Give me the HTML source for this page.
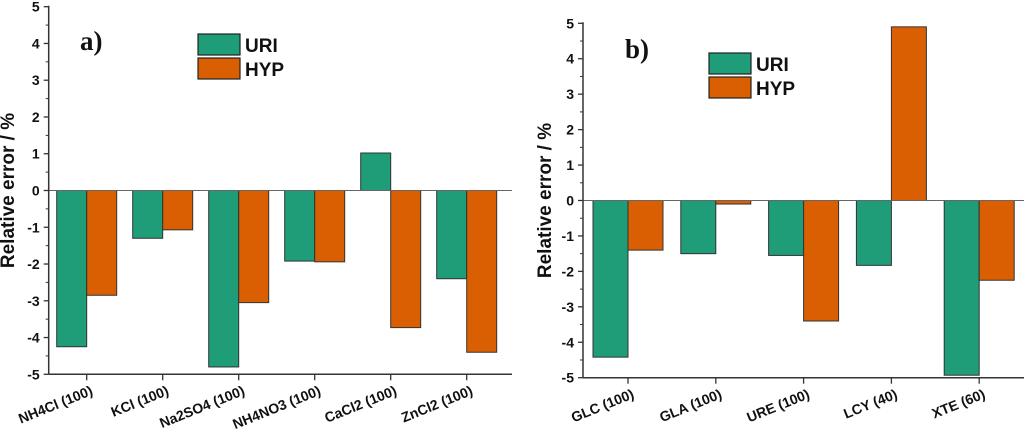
<!DOCTYPE html>
<html><head><meta charset="utf-8"><style>
html,body{margin:0;padding:0;background:#fff;}
svg{display:block;font-family:"Liberation Sans",Arial,sans-serif;}
</style></head><body>
<svg id="chart" width="1024" height="433" viewBox="0 0 1024 433"></svg>
<script>
const catsA = ["NH4Cl (100)","KCl (100)","Na2SO4 (100)","NH4NO3 (100)","CaCl2 (100)","ZnCl2 (100)"];
const uriA = [-4.25,-1.3,-4.8,-1.92,1.02,-2.4];
const hypA = [-2.85,-1.07,-3.05,-1.94,-3.73,-4.4];
const catsB = ["GLC (100)","GLA (100)","URE (100)","LCY (40)","XTE (60)"];
const uriB = [-4.42,-1.5,-1.55,-1.83,-4.93];
const hypB = [-1.4,-0.1,-3.4,4.9,-2.25];
const yTicks = [-5,-4,-3,-2,-1,0,1,2,3,4,5];

const NS="http://www.w3.org/2000/svg";
const svg=document.getElementById('chart');
function mk(tag,attrs,parent,text){const e=document.createElementNS(NS,tag);for(const k in attrs)e.setAttribute(k,attrs[k]);if(text!==undefined)e.textContent=text;(parent||svg).appendChild(e);return e;}

function panel(cfg){
  const g=mk('g',{});
  
  
  const y=v=>cfg.y0+(cfg.top-cfg.y0)*(v-(-5))/10;
  const x=i=>cfg.firstTick+i*cfg.step;
  const zero=y(0);
  cfg.cats.forEach((c,i)=>{
    const cx=x(i);
    [[cfg.uri[i],cx-cfg.bw,'#1e9d78','uri'],[cfg.hyp[i],cx,'#d95f02','hyp']].forEach(([v,bx,col,s])=>{
      const yy=y(v);
      const r=mk('rect',{x:bx,y:Math.min(yy,zero),width:cfg.bw,height:Math.abs(yy-zero),fill:col,stroke:'#333','stroke-width':1},g);
      
      
    });
  });
  mk('line',{x1:cfg.ax,x2:cfg.right,y1:zero,y2:zero,stroke:'#666','stroke-width':1},g);
  const ya=mk('line',{x1:cfg.ax,x2:cfg.ax,y1:cfg.top-1,y2:cfg.y0,stroke:'#333','stroke-width':1.5},g);
  
  
  const xa=mk('line',{x1:cfg.ax,x2:cfg.right,y1:cfg.y0,y2:cfg.y0,stroke:'#333','stroke-width':1.5},g);
  
  
  yTicks.forEach(t=>{
    const yy=y(t);
    mk('line',{x1:cfg.ax-5,x2:cfg.ax,y1:yy,y2:yy,stroke:'#333','stroke-width':1.3},g);
    if(t<5) mk('line',{x1:cfg.ax-3,x2:cfg.ax,y1:y(t+0.5),y2:y(t+0.5),stroke:'#333','stroke-width':1},g);
    const tl=mk('text',{x:cfg.ax-9,y:yy+5,'text-anchor':'end','font-size':14,'font-weight':'bold',fill:'#111'},g,String(t));
    
    
  });
  cfg.cats.forEach((c,i)=>{
    const cx=x(i);
    mk('line',{x1:cx,x2:cx,y1:cfg.y0,y2:cfg.y0+6,stroke:'#333','stroke-width':1.3},g);
    const tl=mk('text',{x:cx+7,y:cfg.y0+20,'text-anchor':'end','font-size':14,'font-weight':'bold',fill:'#111',transform:`rotate(-22 ${cx+7} ${cfg.y0+20})`},g,c);
    
    
  });
  const yt=mk('text',{x:cfg.titleX,y:(cfg.top+cfg.y0)/2,'text-anchor':'middle','font-size':19,'font-weight':'bold',fill:'#111',transform:`rotate(-90 ${cfg.titleX} ${(cfg.top+cfg.y0)/2})`},g,'Relative error / %');
  
  
  const lab=mk('text',{x:cfg.labX,y:cfg.labY,'font-size':27,'font-weight':'bold','font-family':'"Liberation Serif",serif',fill:'#111'},g,cfg.label);
  
  
  [['URI','#1e9d78',0],['HYP','#d95f02',1]].forEach(([n,col,k])=>{
    const r=mk('rect',{x:cfg.lx,y:cfg.ly+k*24,width:42,height:21,fill:col,stroke:'#222','stroke-width':1.2},g);
    
    
    const t=mk('text',{x:cfg.lx+47,y:cfg.ly+k*24+18,'font-size':19,'font-weight':'bold',fill:'#111'},g,n);
    
    
  });
}
panel({name:'chart-a',cats:catsA,uri:uriA,hyp:hypA,ax:48.7,right:512,top:6.7,y0:374.3,firstTick:86.7,step:76,bw:30,titleX:14,labX:80,labY:50,label:'a)',lx:198,ly:34});
panel({name:'chart-b',cats:catsB,uri:uriB,hyp:hypB,ax:583,right:1024,top:23.3,y0:377.7,firstTick:628,step:87.8,bw:35,titleX:551,labX:625,labY:58,label:'b)',lx:709,ly:53});
</script>
</body></html>
